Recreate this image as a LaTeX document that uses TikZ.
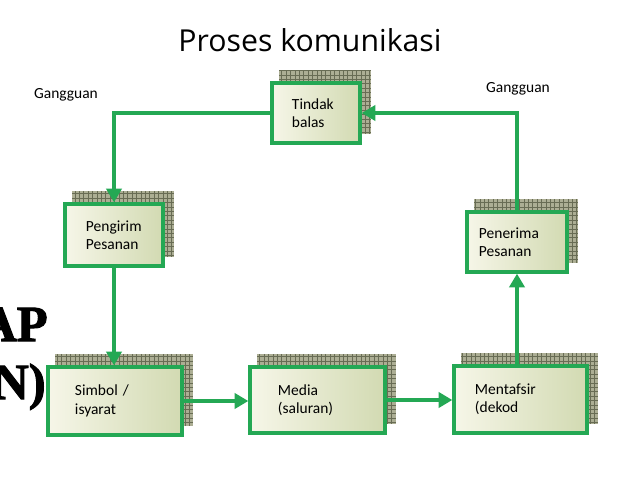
\documentclass[tikz,border=0pt]{standalone}
\usepackage{fontspec}
\setmainfont{Carlito}
\newfontfamily\judulfont{Open Sans}
\newfontfamily\hurufbesar[BoldFeatures={FakeBold=2}]{Liberation Serif}
\usepackage{xcolor}
\usetikzlibrary{arrows.meta,backgrounds}
\definecolor{hijau}{RGB}{36,168,84}
\definecolor{krem}{RGB}{246,246,232}
\definecolor{zaitun}{RGB}{210,218,178}
\definecolor{gridbg}{RGB}{172,174,148}
\definecolor{gridgaris}{RGB}{104,108,84}

\begin{document}
\begin{tikzpicture}[x=0.025cm,y=-0.025cm,
  kotak/.style={draw=hijau,line width=2.4pt,left color=krem,right color=zaitun,
    align=left,font=\fontsize{11}{13}\selectfont,inner ysep=0pt},
  ar/.style={-{Triangle[length=3.4mm,width=3.8mm]},hijau,line width=2.2pt},
  teks/.style={font=\fontsize{11}{13}\selectfont}]
  \useasboundingbox (0,0) rectangle (638,479);
  \clip (0,0) rectangle (638,479);
  \node[font=\judulfont\fontsize{21.5}{24}\selectfont,anchor=base] (judul) at (310,52) {Proses komunikasi};
  \node[teks] (g1) at (66,95) {Gangguan};
  \node[teks] (g2) at (518,89) {Gangguan};
  \node[kotak,minimum height=1.5cm,inner xsep=0.5cm,text width=1.2cm] (tindak) at (316,113) {Tindak\\balas};
  \node[kotak,minimum height=1.55cm,inner xsep=0.525cm,text width=1.4cm] (pengirim) at (114,235) {Pengirim\\Pesanan};
  \node[kotak,minimum height=1.5cm,inner xsep=0.3cm,text width=1.9cm] (penerima) at (517,242) {Penerima\\Pesanan};
  \node[kotak,minimum height=1.7cm,inner xsep=0.675cm,text width=2.0cm] (simbol) at (115,401) {Simbol /\\isyarat};
  \node[kotak,minimum height=1.65cm,inner xsep=0.7cm,text width=1.975cm] (media) at (317.5,400) {Media\\(saluran)};
  \node[kotak,minimum height=1.675cm,inner xsep=0.525cm,text width=2.275cm] (mentafsir) at (520.5,399.5) {Mentafsir\\(dekod};
  % huruf besar terpotong di tepi kiri
  \node[font=\hurufbesar\bfseries\fontsize{36}{40}\selectfont,anchor=base east,inner sep=0pt] (ap) at (48,341) {AP};
  \node[font=\hurufbesar\bfseries\fontsize{36}{40}\selectfont,anchor=base east,inner sep=0pt] (np) at (46,399) {N)};
  \begin{scope}[on background layer]
    \foreach \n in {tindak,pengirim,penerima,simbol,media,mentafsir}{
      \fill[gridbg] ([shift={(9,-11)}]\n.south west) rectangle ([shift={(9,-11)}]\n.north east);
      \draw[gridgaris,line width=0.3pt,step=0.11cm] ([shift={(9,-11)}]\n.south west) grid ([shift={(9,-11)}]\n.north east);
    }
  \end{scope}
  \draw[ar] (tindak.west) -| (pengirim.north);
  \draw[ar] (pengirim.south) -- (pengirim.south |- simbol.north);
  \draw[ar] (simbol.east) -- (simbol.east -| media.west);
  \draw[ar] (media.east) -- (media.east -| mentafsir.west);
  \draw[ar] (mentafsir.north -| penerima.south) -- (penerima.south);
  \draw[ar] (penerima.north) |- (tindak.east);
\end{tikzpicture}
\end{document}
